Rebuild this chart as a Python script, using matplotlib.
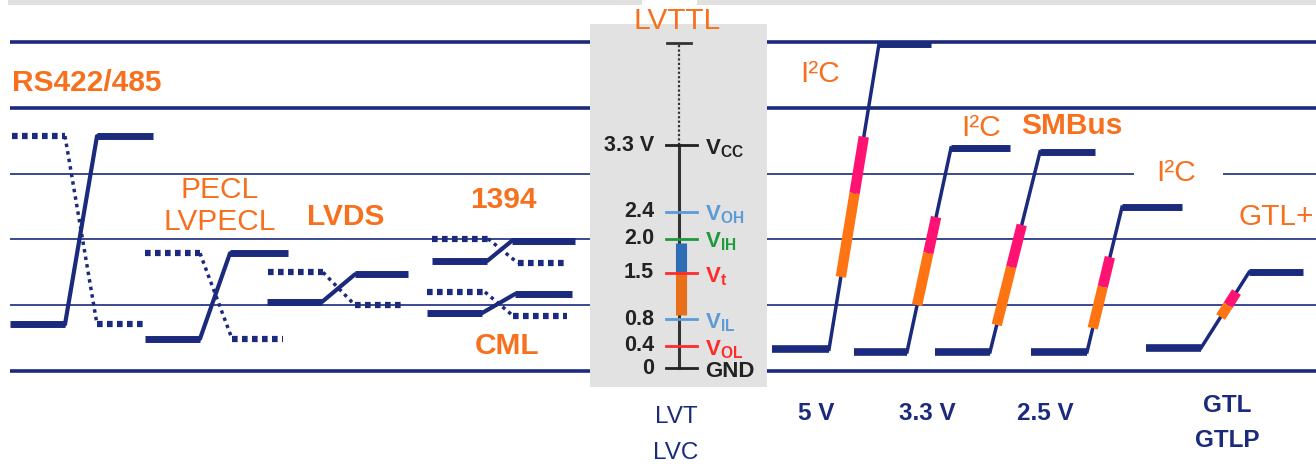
import numpy as np
import matplotlib.pyplot as plt
from matplotlib.patches import Rectangle

plt.rcParams['font.family'] = ['Liberation Sans', 'DejaVu Sans']
plt.rcParams['mathtext.fontset'] = 'custom'
plt.rcParams['mathtext.rm'] = 'Liberation Sans'
plt.rcParams['mathtext.bf'] = 'Liberation Sans:bold'
plt.rcParams['mathtext.it'] = 'Liberation Sans:italic'

NAVY = '#1b2a7c'
ORANGE = '#f7701e'
PINK = '#ff1272'
BAR_ORANGE = '#ff7412'

# reference rails, bottom to top
rail_levels = [0, 1, 2, 3, 4, 5]
rail_heavy = [True, False, False, False, True, True]

# differential pairs: x = [start, edge start, edge end, stop]
diff_solid_x = [[10, 65, 97, 153], [145, 200, 230, 288], [267, 322, 355, 408],
                [432, 487, 512, 575], [427, 482, 515, 572]]
diff_solid_lo = [0.71, 0.49, 1.05, 1.67, 0.88]
diff_solid_hi = [3.57, 1.79, 1.47, 1.98, 1.17]
diff_dot_x = [[12, 65, 97, 147], [145, 200, 232, 283], [268, 323, 355, 405],
              [432, 488, 518, 568], [427, 485, 513, 567]]
diff_dot_hi = [3.57, 1.79, 1.50, 2.01, 1.20]
diff_dot_lo = [0.71, 0.49, 1.00, 1.64, 0.84]

# single ended buses (5 V, 3.3 V, 2.5 V, low voltage I2C, GTL)
se_x = [[772, 829, 879, 931], [854, 907, 951, 1010], [935, 990, 1040, 1095],
        [1031, 1087, 1122, 1182], [1146, 1201, 1249, 1303]]
se_lo = [0.33, 0.29, 0.29, 0.29, 0.35]
se_hi = [4.97, 3.39, 3.33, 2.49, 1.50]
se_pink_top = [3.56, 2.34, 2.22, 1.73, 1.20]
se_split = [2.70, 1.79, 1.58, 1.28, 1.00]
se_orange_bot = [1.43, 1.00, 0.70, 0.65, 0.82]

# LVTTL scale
lvttl_labels = ['3.3 V', '2.4', '2.0', '1.5', '0.8', '0.4', '0']
lvttl_pos = [3.43, 2.42, 2.01, 1.49, 0.79, 0.38, 0.04]
lvttl_names = [r'$\mathbf{V_{CC}}$', r'$\mathbf{V_{OH}}$', r'$\mathbf{V_{IH}}$',
               r'$\mathbf{V_{t}}$', r'$\mathbf{V_{IL}}$', r'$\mathbf{V_{OL}}$', 'GND']
lvttl_colors = ['#222222', '#5c9bd6', '#1e9a3c', '#ff2a2a', '#5c9bd6', '#ff2a2a', '#222222']
lvttl_top = 4.98
bar_blue = (1.95, 1.50)
bar_orange = (1.50, 0.85)

fig = plt.figure(figsize=(13.16, 4.67), dpi=100)
ax = fig.add_axes([0, 0, 1, 1])
ax.set_xlim(0, 1316)
ax.set_ylim(-96 / 65.8, 371 / 65.8)
ax.axis('off')

# top gray strip with a gap above the LVTTL title
ax.add_patch(Rectangle((8, 5.56), 634, 0.1, color='#e0e0e0', lw=0, zorder=0))
ax.add_patch(Rectangle((697, 5.56), 630, 0.1, color='#e0e0e0', lw=0, zorder=0))

# rails
for lev, heavy in zip(rail_levels, rail_heavy):
    lw = 2.6 if heavy else 1.2
    if lev == 3:
        ax.plot([10, 1134], [lev, lev], color=NAVY, lw=lw, zorder=1, solid_capstyle='butt')
        ax.plot([1223, 1316], [lev, lev], color=NAVY, lw=lw, zorder=1, solid_capstyle='butt')
    else:
        ax.plot([10, 1316], [lev, lev], color=NAVY, lw=lw, zorder=1, solid_capstyle='butt')

# differential pairs
for i in range(len(diff_solid_x)):
    xs = diff_solid_x[i]
    lo, hi = diff_solid_lo[i], diff_solid_hi[i]
    ax.plot(xs[:2], [lo, lo], color=NAVY, lw=5, solid_capstyle='butt', zorder=3)
    ax.plot(xs[1:3], [lo, hi], color=NAVY, lw=3, solid_capstyle='round', zorder=3)
    ax.plot(xs[2:], [hi, hi], color=NAVY, lw=5, solid_capstyle='butt', zorder=3)

    xd = diff_dot_x[i]
    hi, lo = diff_dot_hi[i], diff_dot_lo[i]
    ax.plot(xd[:2], [hi, hi], color=NAVY, lw=4.5, ls=(0, (0.9, 0.7)), zorder=3)
    ax.plot(xd[1:3], [hi, lo], color=NAVY, lw=2.5, ls=(0, (1, 1.2)), zorder=3)
    ax.plot(xd[2:], [lo, lo], color=NAVY, lw=4.5, ls=(0, (0.9, 0.7)), zorder=3)

# single ended buses with input threshold bands
for i in range(len(se_x)):
    xs = se_x[i]
    lo, hi = se_lo[i], se_hi[i]
    ax.plot(xs[:2], [lo, lo], color=NAVY, lw=5.5, solid_capstyle='butt', zorder=3)
    ax.plot(xs[1:3], [lo, hi], color=NAVY, lw=2.5, zorder=3)
    ax.plot(xs[2:], [hi, hi], color=NAVY, lw=5, solid_capstyle='butt', zorder=3)
    edge = lambda v: np.interp(v, [lo, hi], xs[1:3])
    ax.plot([edge(se_pink_top[i]), edge(se_split[i])], [se_pink_top[i], se_split[i]],
            color=PINK, lw=7.5, solid_capstyle='butt', zorder=4)
    ax.plot([edge(se_split[i]), edge(se_orange_bot[i])], [se_split[i], se_orange_bot[i]],
            color=BAR_ORANGE, lw=7.5, solid_capstyle='butt', zorder=4)

# LVTTL panel
ax.add_patch(Rectangle((590, -0.24), 177, 5.51, color='#e2e2e2', lw=0, zorder=2))
sx = 679
ax.plot([sx, sx], [lvttl_pos[0], lvttl_top], color='#333333', lw=1.6, ls=(0, (1, 1)), zorder=5)
ax.plot([sx - 12, sx + 12], [lvttl_top, lvttl_top], color='#333333', lw=2, zorder=5)
ax.plot([sx, sx], [lvttl_pos[-1], lvttl_pos[0]], color='#333333', lw=2.2, zorder=5)
ax.plot([sx + 2, sx + 2], bar_blue, color='#2f6db5', lw=8, solid_capstyle='butt', zorder=6)
ax.plot([sx + 2, sx + 2], bar_orange, color='#e8701a', lw=8, solid_capstyle='butt', zorder=6)
for lab, pos, name, col in zip(lvttl_labels, lvttl_pos, lvttl_names, lvttl_colors):
    ax.plot([sx - 13, sx + 18], [pos, pos], color=col, lw=2, zorder=7)
    ax.text(654, pos, lab, ha='right', va='center', fontsize=15.5, fontweight='bold',
            color='#222222', zorder=7)
    ax.text(705, pos - 0.05, name, ha='left', va='center', fontsize=16, fontweight='bold',
            color=col, zorder=7)

# labels
orange_labels = [
    ('RS422/485', 12, 4.38, 'left', 'bold'),
    ('PECL', 220, 2.75, 'center', 'normal'),
    ('LVPECL', 220, 2.26, 'center', 'normal'),
    ('LVDS', 346, 2.34, 'center', 'bold'),
    ('1394', 503, 2.60, 'center', 'bold'),
    ('CML', 507, 0.38, 'center', 'bold'),
    ('LVTTL', 677, 5.32, 'center', 'normal'),
    ('I²C', 820, 4.51, 'center', 'normal'),
    ('I²C', 981, 3.69, 'center', 'normal'),
    ('SMBus', 1072, 3.72, 'center', 'bold'),
    ('I²C', 1176, 3.01, 'center', 'normal'),
    ('GTL+', 1238, 2.34, 'left', 'normal'),
]
for txt, x, y, ha, w in orange_labels:
    ax.text(x, y, txt, ha=ha, va='center', fontsize=21.5, fontweight=w, color=ORANGE, zorder=8)

navy_labels = [
    ('LVT', 676, -0.70, 'normal'),
    ('LVC', 676, -1.25, 'normal'),
    ('5 V', 816, -0.64, 'bold'),
    ('3.3 V', 927, -0.64, 'bold'),
    ('2.5 V', 1045, -0.64, 'bold'),
    ('GTL', 1227, -0.52, 'bold'),
    ('GTLP', 1227, -1.05, 'bold'),
]
for txt, x, y, w in navy_labels:
    ax.text(x, y, txt, ha='center', va='center', fontsize=17.5, fontweight=w, color=NAVY, zorder=8)

fig.savefig('out.png', dpi=100)
